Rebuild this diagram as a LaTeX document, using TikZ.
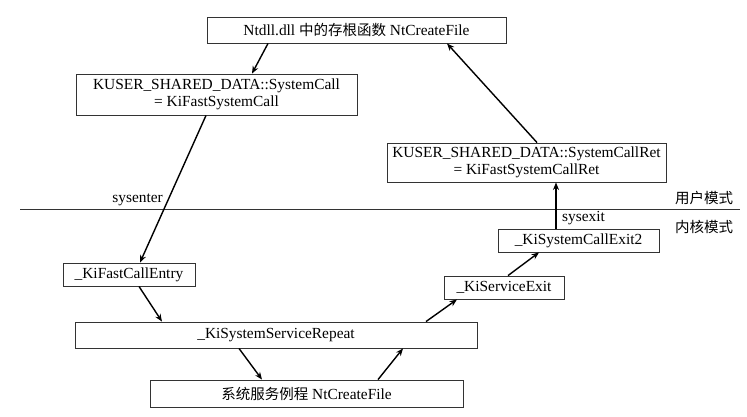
\documentclass[tikz,border=0pt]{standalone}
\usepackage{fontspec}
\setmainfont{Liberation Serif}
\newfontfamily\cjk{Noto Sans CJK SC}
\usetikzlibrary{arrows.meta,calc}
\begin{document}
\begin{tikzpicture}[x=1pt,y=-1pt,
  box/.style={draw=black!80,line width=0.9pt,rectangle,inner sep=0pt,align=center,
    font=\fontsize{15.4}{17}\selectfont},
  conn/.style={line width=1.4pt,-{Stealth[length=7.5pt,width=6pt]}},
  lbl/.style={font=\fontsize{15.4}{17}\selectfont,inner sep=0pt}]
\useasboundingbox (0,0) rectangle (747,416);
\fill[white] (0,0) rectangle (747,416);

\node[box,minimum width=299pt,minimum height=26pt] (top) at (356.5,30) {Ntdll.dll {\cjk\fontsize{14.5}{17}\selectfont 中的存根函数} NtCreateFile};
\node[box,minimum width=281pt,minimum height=41pt] (kuser) at (216.5,94.5) {KUSER\_SHARED\_DATA::SystemCall\\= KiFastSystemCall};
\node[box,minimum width=279pt,minimum height=39pt] (kret) at (526.5,162.5) {KUSER\_SHARED\_DATA::SystemCallRet\\= KiFastSystemCallRet};
\node[box,minimum width=161pt,minimum height=23pt] (exit2) at (578.5,240.5) {\_KiSystemCallExit2};
\node[box,minimum width=120pt,minimum height=23pt] (svcexit) at (504,287.5) {\_KiServiceExit};
\node[box,minimum width=132pt,minimum height=23pt] (fast) at (129,274.5) {\_KiFastCallEntry};
\node[box,minimum width=402pt,minimum height=26pt] (repeat) at (276,335) {\_KiSystemServiceRepeat};
\node[box,minimum width=313pt,minimum height=27pt] (nt) at (306.5,393.5) {{\cjk\fontsize{14.5}{17}\selectfont 系统服务例程} NtCreateFile};

\coordinate (lineL) at (20,209);
\coordinate (lineR) at (740,209);
\draw[black!80,line width=0.9pt] (lineL) -- (lineR);

\node[lbl,font=\cjk\fontsize{14.5}{17}\selectfont] (um) at (704,198) {用户模式};
\node[lbl,font=\cjk\fontsize{14.5}{17}\selectfont] (km) at (704,227) {内核模式};

% arrows
\draw[conn] ([xshift=-88.5pt]top.south) -- ([xshift=35.5pt]kuser.north);
\draw[conn] ([xshift=-10.5pt]kuser.south) -- ([xshift=11pt]fast.north);
\node[lbl,anchor=east] (sysenter) at (163,200) {sysenter};
\draw[conn] ([xshift=10pt]fast.south) -- ([xshift=-114pt]repeat.north);
\draw[conn] ([xshift=-37pt]repeat.south) -- ([xshift=-44.5pt]nt.north);
\draw[conn] ([xshift=71.5pt]nt.north) -- ([xshift=127pt]repeat.south);
\draw[conn] ([xshift=150pt]repeat.north) -- ([xshift=-47pt]svcexit.south);
\draw[conn] ([xshift=4pt]svcexit.north) -- ([xshift=-39.5pt]exit2.south);
\draw[conn] ([xshift=-22.5pt]exit2.north) -- ([xshift=29.5pt]kret.south);
\node[lbl] (sysexit) at (583.5,218) {sysexit};
\draw[conn] ([xshift=10.5pt]kret.north) -- ([xshift=90.5pt]top.south);
\end{tikzpicture}
\end{document}
